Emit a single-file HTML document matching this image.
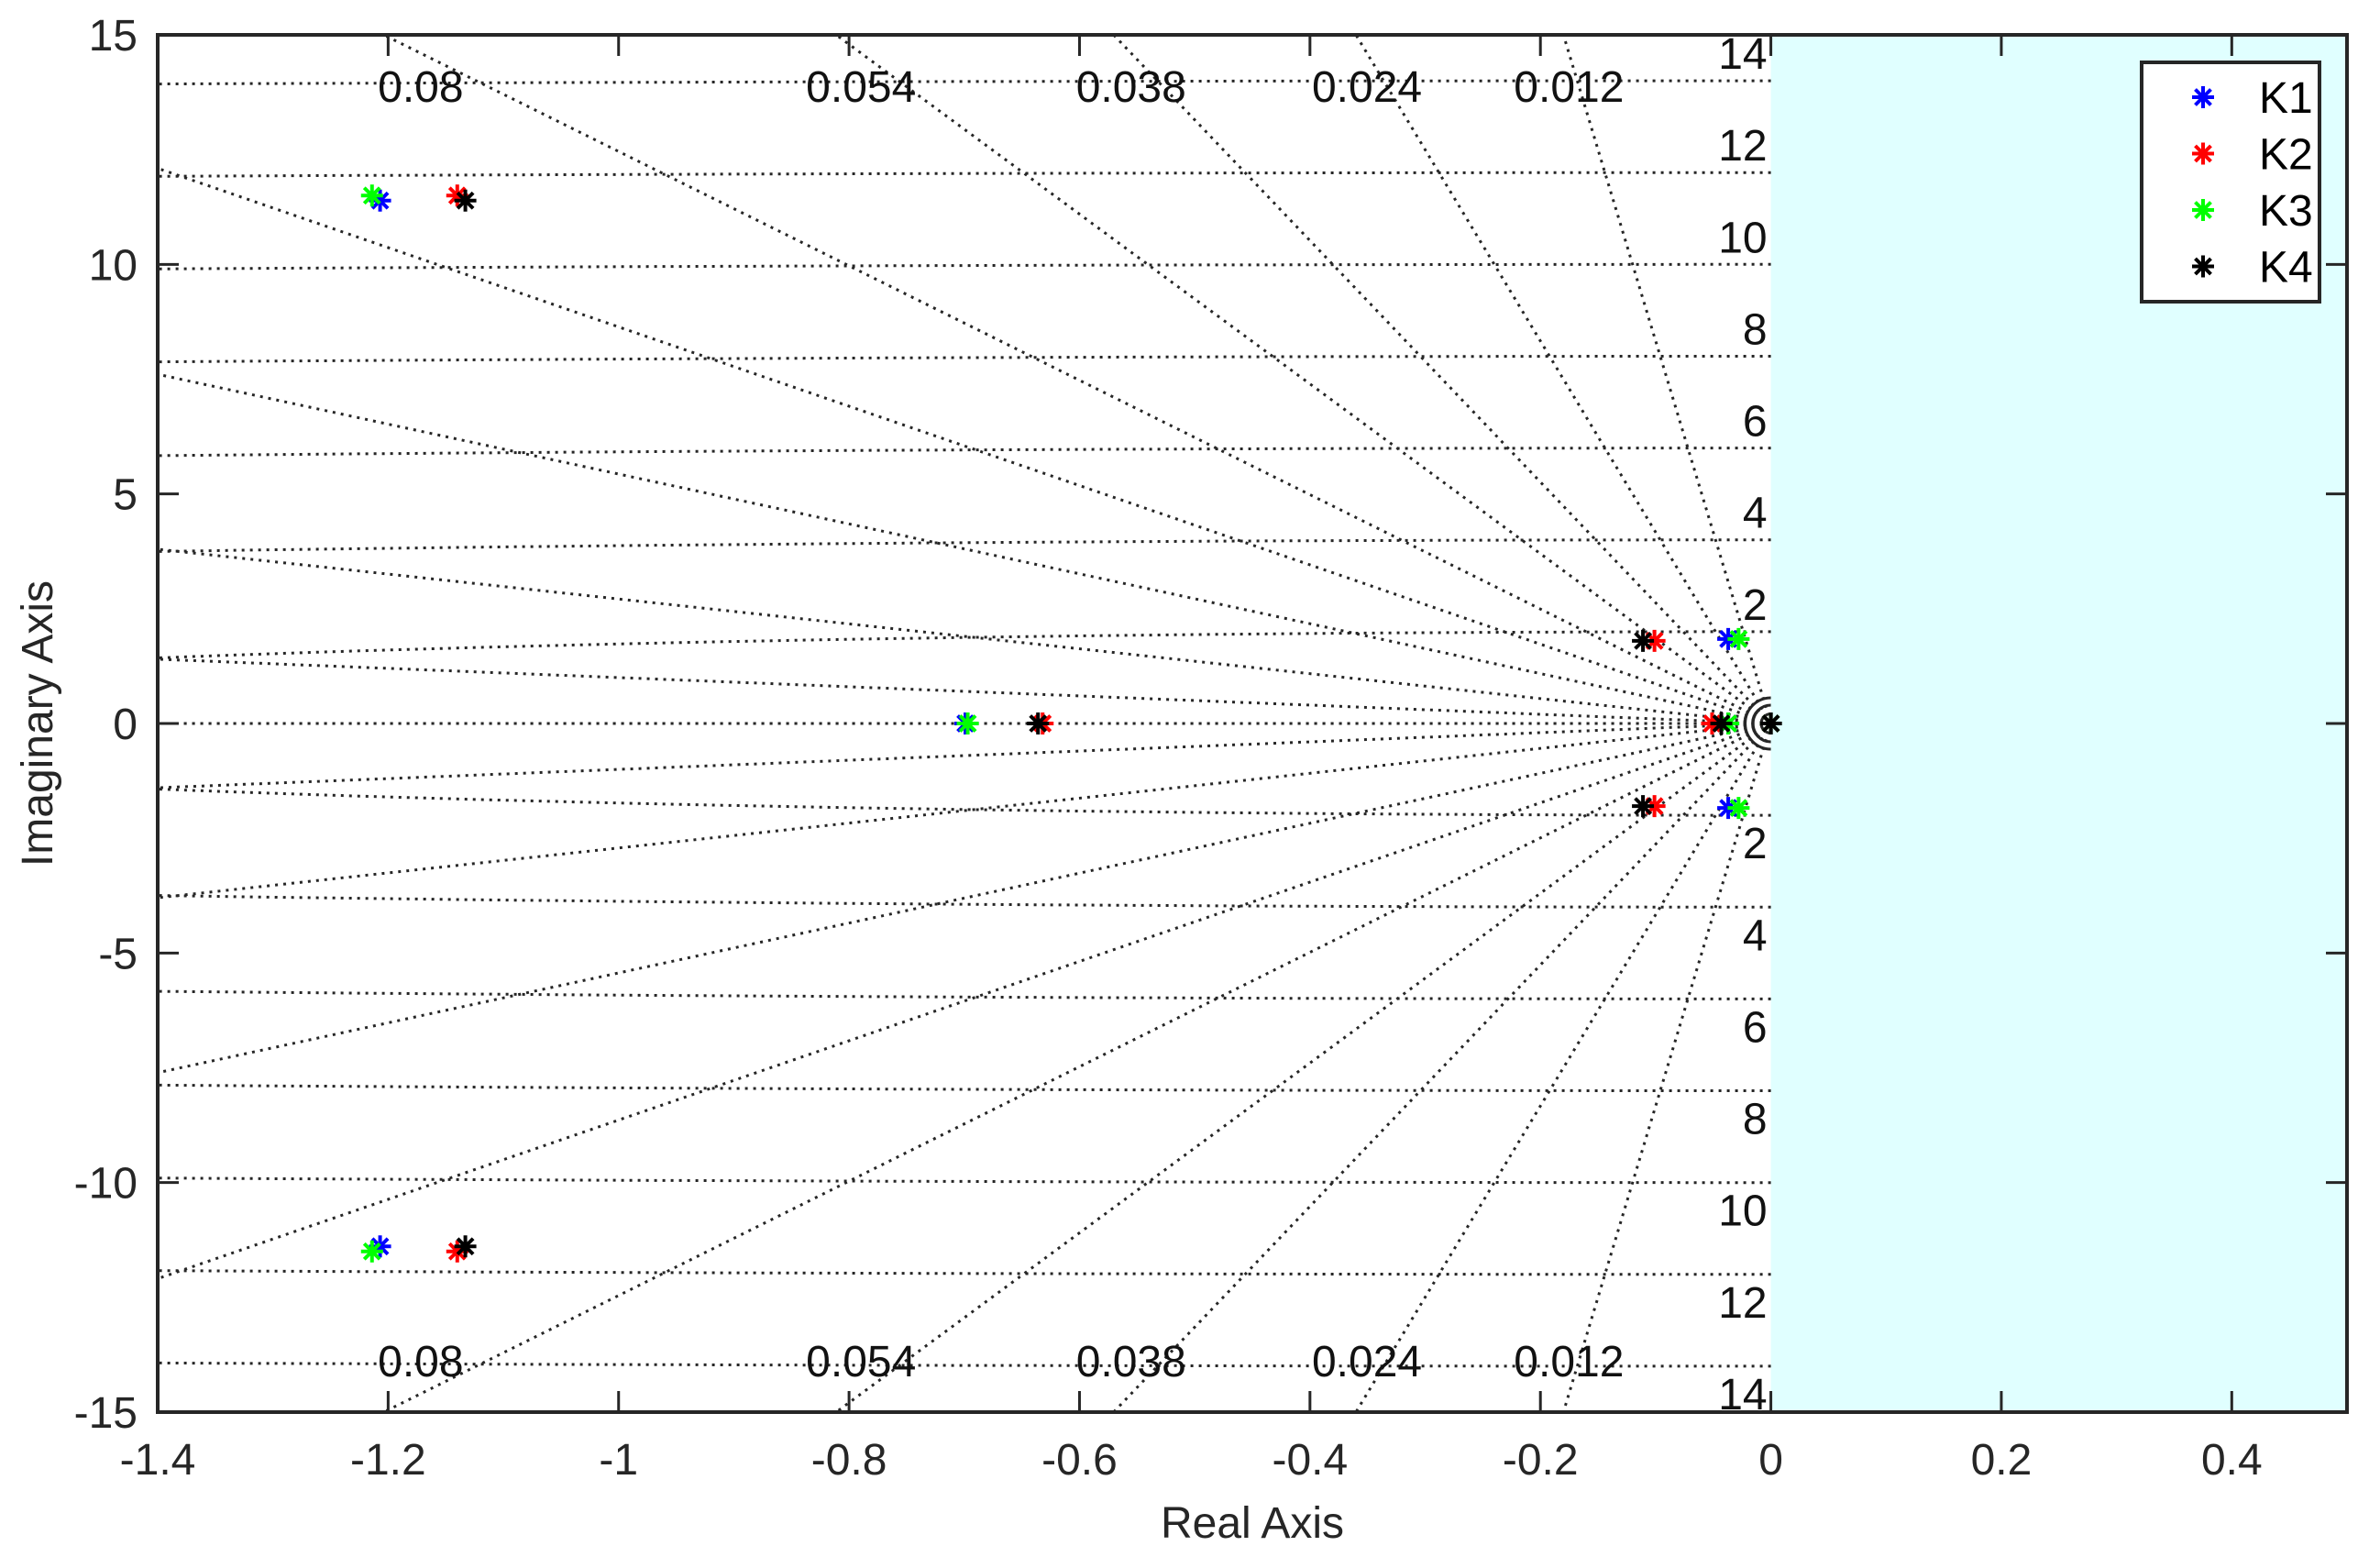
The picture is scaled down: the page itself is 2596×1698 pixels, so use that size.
<!DOCTYPE html>
<html><head><meta charset="utf-8"><style>
html,body{margin:0;padding:0;background:#fff;}
svg{display:block;font-family:"Liberation Sans",Arial,sans-serif;}
</style></head><body>
<svg id="chart" width="2596" height="1698" viewBox="0 0 2596 1698" xmlns="http://www.w3.org/2000/svg">
<rect x="0" y="0" width="2596" height="1698" fill="#fff"/>
<g id="bg"></g>
<g id="grid"></g>
<g id="marks"></g>
<g id="axes"></g>
</svg>
<script>
const xTicks = [-1.4,-1.2,-1,-0.8,-0.6,-0.4,-0.2,0,0.2,0.4];
const xTickLabels = ["-1.4","-1.2","-1","-0.8","-0.6","-0.4","-0.2","0","0.2","0.4"];
const yTicks = [-15,-10,-5,0,5,10,15];
const yTickLabels = ["-15","-10","-5","0","5","10","15"];
const zetas = [0.012,0.024,0.038,0.054,0.08,0.115,0.181,0.346,0.707,1];
const zetaLabels = ["0.012","0.024","0.038","0.054","0.08"];
const wns = [2,4,6,8,10,12,14];
const seriesNames = ["K1","K2","K3","K4"];
const seriesColors = ["#0000ff","#ff0000","#00ff00","#000000"];
const k1Re = [-1.207,-1.207,-0.699,-0.037,-0.037,-0.037,0];
const k1Im = [11.39,-11.39,0,0,1.84,-1.84,0];
const k2Re = [-1.140,-1.140,-0.632,-0.051,-0.101,-0.101,0];
const k2Im = [11.5,-11.5,0,0,1.8,-1.8,0];
const k3Re = [-1.214,-1.214,-0.697,-0.037,-0.028,-0.028,0];
const k3Im = [11.5,-11.5,0,0,1.84,-1.84,0];
const k4Re = [-1.133,-1.133,-0.636,-0.043,-0.111,-0.111,0];
const k4Im = [11.39,-11.39,0,0,1.8,-1.8,0];

const L=172,R=2560,T=38,B=1540,XMIN=-1.4,XMAX=0.5,YMIN=-15,YMAX=15;
const sx=v=>L+(v-XMIN)/(XMAX-XMIN)*(R-L);
const sy=v=>B-(v-YMIN)/(YMAX-YMIN)*(B-T);
const NS="http://www.w3.org/2000/svg";
function mk(tag,attrs,parent,text){const e=document.createElementNS(NS,tag);for(const k in attrs)e.setAttribute(k,attrs[k]);if(text!==undefined)e.textContent=text;parent.appendChild(e);return e;}
const bg=document.getElementById('bg'),grid=document.getElementById('grid'),marks=document.getElementById('marks'),axes=document.getElementById('axes');

const unstable=mk('rect',{x:sx(0),y:T,width:R-sx(0),height:B-T,fill:'#e0ffff'},bg);



const dot={stroke:'#262626','stroke-width':3,'stroke-dasharray':'3 6',fill:'none'};
zetas.forEach((z,i)=>{
  const s=Math.sqrt(1-z*z);
  const t=Math.min(1.4/z, s>0?15/s:1e9);
  [1,-1].forEach(sg=>{
    const l=mk('line',Object.assign({x1:sx(0),y1:sy(0),x2:sx(-z*t),y2:sy(sg*s*t)},dot),grid);
    
    
  });
});
wns.forEach(w=>{
  [1,-1].forEach(sg=>{
    let d='';
    for(let k=0;k<=40;k++){const x=-1.4*k/40;const y=sg*Math.sqrt(w*w-x*x);d+=(k?'L':'M')+sx(x).toFixed(1)+','+sy(y).toFixed(1);}
    const p=mk('path',Object.assign({d:d},dot),grid);
    
    
    const t=mk('text',{x:sx(0)-4,y:sy(sg*(w+0.6))+17,'text-anchor':'end','font-size':48,fill:'#111'},grid,String(w));
    
    
  });
});
[20,28].forEach(r=>{
  const a=mk('path',{d:`M${sx(0)},${sy(0)-r} A${r},${r} 0 0 0 ${sx(0)},${sy(0)+r}`,stroke:'#262626','stroke-width':3,fill:'none'},grid);
  
  
});
zetaLabels.forEach((lab,i)=>{
  const z=zetas[i];const s=Math.sqrt(1-z*z);
  const xr=-z*14.6/s;
  [[14,23],[-14,11]].forEach(([yv,off])=>{
    const t=mk('text',{x:sx(xr),y:sy(yv)+off,'text-anchor':'middle','font-size':48,fill:'#111'},grid,lab);
    
    
  });
});
function star(x,y,c,parent){
  const g=mk('g',{stroke:c,'stroke-width':4},parent);
  const r=12;
  mk('line',{x1:x-r,y1:y,x2:x+r,y2:y},g);
  mk('line',{x1:x,y1:y-r,x2:x,y2:y+r},g);
  mk('line',{x1:x-8.5,y1:y-8.5,x2:x+8.5,y2:y+8.5},g);
  mk('line',{x1:x-8.5,y1:y+8.5,x2:x+8.5,y2:y-8.5},g);
  return g;
}
const allRe=[k1Re,k2Re,k3Re,k4Re],allIm=[k1Im,k2Im,k3Im,k4Im];
allRe.forEach((re,si)=>{
  re.forEach((v,j)=>{
    const g=star(sx(v),sy(allIm[si][j]),seriesColors[si],marks);
    
    
  });
});
const box=mk('rect',{x:L,y:T,width:R-L,height:B-T,fill:'none',stroke:'#262626','stroke-width':4},axes);


xTicks.forEach((v,i)=>{
  const x=sx(v);
  mk('line',{x1:x,y1:B,x2:x,y2:B-23,stroke:'#262626','stroke-width':3},axes);
  mk('line',{x1:x,y1:T,x2:x,y2:T+23,stroke:'#262626','stroke-width':3},axes);
  const t=mk('text',{x:x,y:1608,'text-anchor':'middle','font-size':48,fill:'#262626'},axes,xTickLabels[i]);
  
  
});
yTicks.forEach((v,i)=>{
  const y=sy(v);
  mk('line',{x1:L,y1:y,x2:L+23,y2:y,stroke:'#262626','stroke-width':3},axes);
  mk('line',{x1:R,y1:y,x2:R-23,y2:y,stroke:'#262626','stroke-width':3},axes);
  const t=mk('text',{x:150,y:y+17,'text-anchor':'end','font-size':48,fill:'#262626'},axes,yTickLabels[i]);
  
  
});
const xt=mk('text',{x:1366,y:1677,'text-anchor':'middle','font-size':48,fill:'#262626'},axes,'Real Axis');


const yt=mk('text',{x:0,y:0,transform:'translate(57,789) rotate(-90)','text-anchor':'middle','font-size':48,fill:'#262626'},axes,'Imaginary Axis');


const lg=mk('g',{},axes);


mk('rect',{x:2336,y:68,width:194,height:261,fill:'#fff',stroke:'#262626','stroke-width':4},lg);
seriesNames.forEach((n,i)=>{
  const y=106+i*61.5;
  const g=mk('g',{},lg);
  
  
  star(2403,y,seriesColors[i],g);
  mk('text',{x:2464,y:y+17,'font-size':48,fill:'#000'},g,n);
});
</script>
</body></html>
